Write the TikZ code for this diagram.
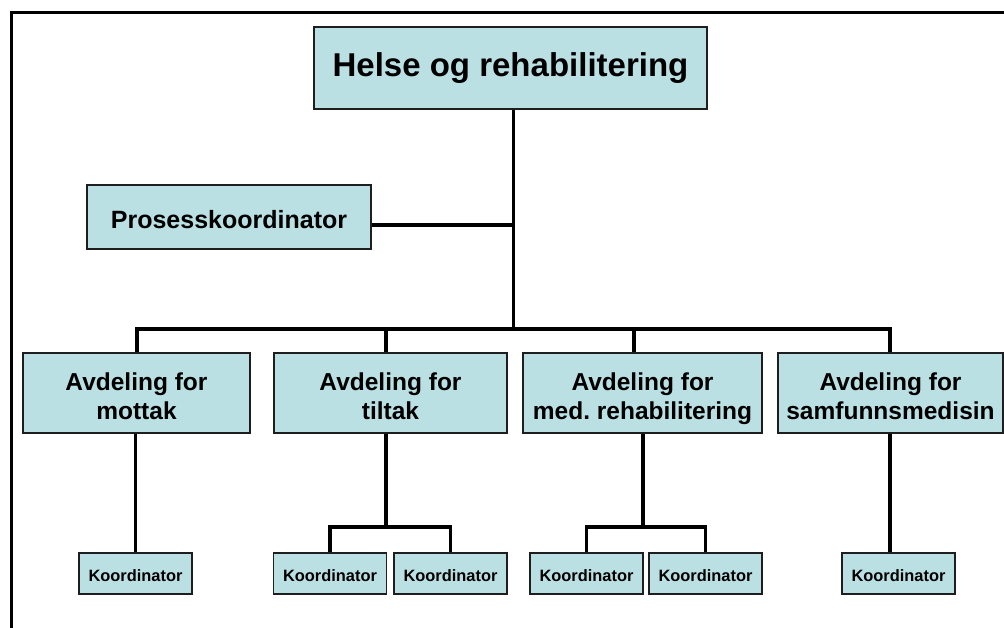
\documentclass[tikz,border=0pt]{standalone}
\usepackage{fontspec}
\setmainfont{Liberation Sans}
\frenchspacing
\definecolor{boxfill}{RGB}{187,224,227}
\definecolor{boxline}{RGB}{30,30,30}
\newcommand\deptup{\rule{0pt}{29pt}}
\newcommand\deptdown{\rule[-5pt]{0pt}{0pt}}
\newcommand\koordup{\rule{0pt}{17pt}}
\newcommand\pkup{\rule{0pt}{22.3pt}}
\begin{document}
\begin{tikzpicture}[x=1pt,y=-1pt,
  box/.style={draw=boxline, line width=1.3pt, fill=boxfill, inner sep=0pt, align=center},
  topbox/.style={box, minimum width=393pt, minimum height=82pt, font=\bfseries\fontsize{33}{38}\selectfont},
  pkbox/.style={box, minimum width=284pt, minimum height=64pt, font=\bfseries\fontsize{25}{29}\selectfont},
  deptbox/.style={box, minimum height=80pt, font=\bfseries\fontsize{24.5}{28.5}\selectfont},
  koordbox/.style={box, minimum width=113pt, minimum height=41pt, font=\bfseries\fontsize{16.4}{19}\selectfont},
  conn/.style={line width=3.8pt, line join=miter},
  frameline/.style={line width=2.8pt}]
\useasboundingbox (0,0) rectangle (1004,627);
% frame (runs off the right and bottom edges)
\draw[frameline] (11.5,640) -- (11.5,12.5) -- (1020,12.5);

% nodes
\node[topbox] (top) at (510.5,68) {Helse og rehabilitering};
\node[pkbox] (pk) at (229,217) {\pkup Prosesskoordinator};
\node[deptbox, minimum width=227pt] (d1) at (136.5,393) {\deptup Avdeling for\\mottak\deptdown};
\node[deptbox, minimum width=233pt] (d2) at (390.5,393) {\deptup Avdeling for\\tiltak\deptdown};
\node[deptbox, minimum width=239pt] (d3) at (642.5,393) {\deptup Avdeling for\\med. rehabilitering\deptdown};
\node[deptbox, minimum width=225pt] (d4) at (890.5,393) {\deptup Avdeling for\\samfunnsmedisin\deptdown};
\node[koordbox] (k1) at (135.5,573.5) {\koordup Koordinator};
\node[koordbox] (k2a) at (330,573.5) {\koordup Koordinator};
\node[koordbox] (k2b) at (450.5,573.5) {\koordup Koordinator};
\node[koordbox] (k3a) at (586.5,573.5) {\koordup Koordinator};
\node[koordbox] (k3b) at (705.5,573.5) {\koordup Koordinator};
\node[koordbox] (k4) at (898.5,573.5) {\koordup Koordinator};

% junction coordinates
\coordinate (main) at (513.5,329);
\coordinate (pkj) at (513.5,225);
\coordinate (b1) at (137,329);
\coordinate (b2) at (386,329);
\coordinate (b3) at (634,329);
\coordinate (b4) at (890,329);
\coordinate (s2) at (386,527);
\coordinate (s3) at (643,527);

% connectors
\draw[conn] (top.south -| main) -- (main);
\draw[conn] (pk.east |- pkj) -- (pkj);
\draw[conn] (d1.north -| b1) -- (b1) -- (b4) -- (d4.north -| b4);
\draw[conn] (b2) -- (d2.north -| b2);
\draw[conn] (b3) -- (d3.north -| b3);
\draw[conn] (d1.south -| k1) -- (k1.north);
\draw[conn] (d2.south -| s2) -- (s2);
\draw[conn] (k2a.north) -- (k2a.north |- s2) -- (k2b.north |- s2) -- (k2b.north);
\draw[conn] (d3.south -| s3) -- (s3);
\draw[conn] (k3a.north) -- (k3a.north |- s3) -- (k3b.north |- s3) -- (k3b.north);
\draw[conn] (d4.south -| b4) -- (k4.north -| b4);
\end{tikzpicture}
\end{document}
